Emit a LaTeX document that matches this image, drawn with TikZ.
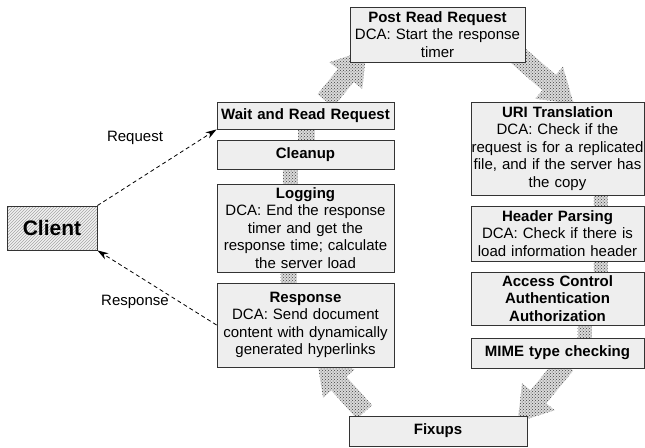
\documentclass[tikz,border=0pt]{standalone}
\usepackage{fontspec}
\setmainfont{Liberation Sans}
\usetikzlibrary{arrows.meta,shapes.arrows,patterns,backgrounds}

\begin{document}
\begin{tikzpicture}[x=1pt,y=-1pt,
  box/.style 2 args={draw=black!80,line width=0.9pt,fill=gray!13,align=center,
    inner xsep=0pt,inner ysep=1pt,text width=#1,minimum height=#2,
    font=\fontsize{15}{17.5}\selectfont},
  big/.style={single arrow,preaction={fill=gray!30},pattern=crosshatch dots,pattern color=black!75,
    inner xsep=0pt,inner ysep=10pt,single arrow head extend=11pt,single arrow tip angle=66},
  strip/.style={preaction={fill=gray!30},pattern=crosshatch dots,pattern color=black!75},
  msg/.style={dash pattern=on 4pt off 3pt,line width=0.8pt,-{Stealth[length=11pt,width=7pt]}}]
  \useasboundingbox (0,0) rectangle (645,447);
  %CLIENT
  \node[draw=black!80,line width=0.9pt,preaction={fill=gray!10},pattern=north east lines,
    pattern color=gray!70,minimum width=90pt,minimum height=44pt,
    font=\fontsize{21}{24}\selectfont\bfseries] (client) at (52,228) {Client};
  %LEFT COLUMN
  \node[box={177pt}{27pt}] (wait) at (305.5,115.5) {\textbf{Wait and Read Request}};
  \node[box={177pt}{29pt}] (cleanup) at (305.5,154.5) {\textbf{Cleanup}};
  \node[box={177pt}{88pt}] (logging) at (305.5,228) {\textbf{Logging}\\DCA: End the response\\timer and get the\\response time; calculate\\the server load};
  \node[box={177pt}{84pt}] (response) at (305.5,325) {\textbf{Response}\\DCA: Send document\\content with dynamically\\generated hyperlinks};
  %TOP AND BOTTOM
  \node[box={175pt}{55pt}] (post) at (437.5,34.5) {\textbf{Post Read Request}\\DCA: Start the response\\timer};
  \node[box={178pt}{30pt}] (fixups) at (438,431) {\textbf{Fixups}};
  %RIGHT COLUMN
  \node[box={173pt}{93pt}] (uri) at (557.5,148.5) {\textbf{URI Translation}\\DCA: Check if the\\request is for a replicated\\file, and if the server has\\the copy};
  \node[box={173pt}{55pt}] (header) at (557.5,233.5) {\textbf{Header Parsing}\\DCA: Check if there is\\load information header};
  \node[box={173pt}{53pt}] (access) at (557.5,298.5) {\textbf{Access Control}\\\textbf{Authentication}\\\textbf{Authorization}};
  \node[box={173pt}{30pt}] (mime) at (557.5,353) {\textbf{MIME type checking}};
  %FLOW
  \begin{pgfonlayer}{background}
    \node[big,minimum height=65pt,rotate=51] (a1) at (341,81.5) {};
    \node[big,minimum height=79pt,rotate=-41] (a2) at (538,73) {};
    \node[big,minimum height=75pt,rotate=230.5] (a3) at (546.5,387) {};
    \node[big,minimum height=71pt,rotate=132] (a4) at (346,391.5) {};
    \path[strip] ([xshift=-8pt]wait.south) rectangle ([xshift=9pt]cleanup.north);
    \path[strip] ([xshift=-23pt]cleanup.south) rectangle ([xshift=-8pt]logging.north);
    \path[strip] ([xshift=-25pt]logging.south) rectangle ([xshift=-9pt]response.north);
    \path[strip] ([xshift=36pt]uri.south) rectangle ([xshift=50pt]header.north);
    \path[strip] ([xshift=36pt]header.south) rectangle ([xshift=50pt]access.north);
    \path[strip] ([xshift=20pt]access.south) rectangle ([xshift=34pt]mime.north);
  \end{pgfonlayer}
  %MESSAGES
  \draw[msg] (client.north east) -- (wait.south west);
  \draw[msg] (response.west) -- (client.south east);
  \node[font=\fontsize{15}{17.5}\selectfont] (req) at (135,138) {Request};
  \node[font=\fontsize{15}{17.5}\selectfont] (resp) at (135,302) {Response};
\end{tikzpicture}
\end{document}
